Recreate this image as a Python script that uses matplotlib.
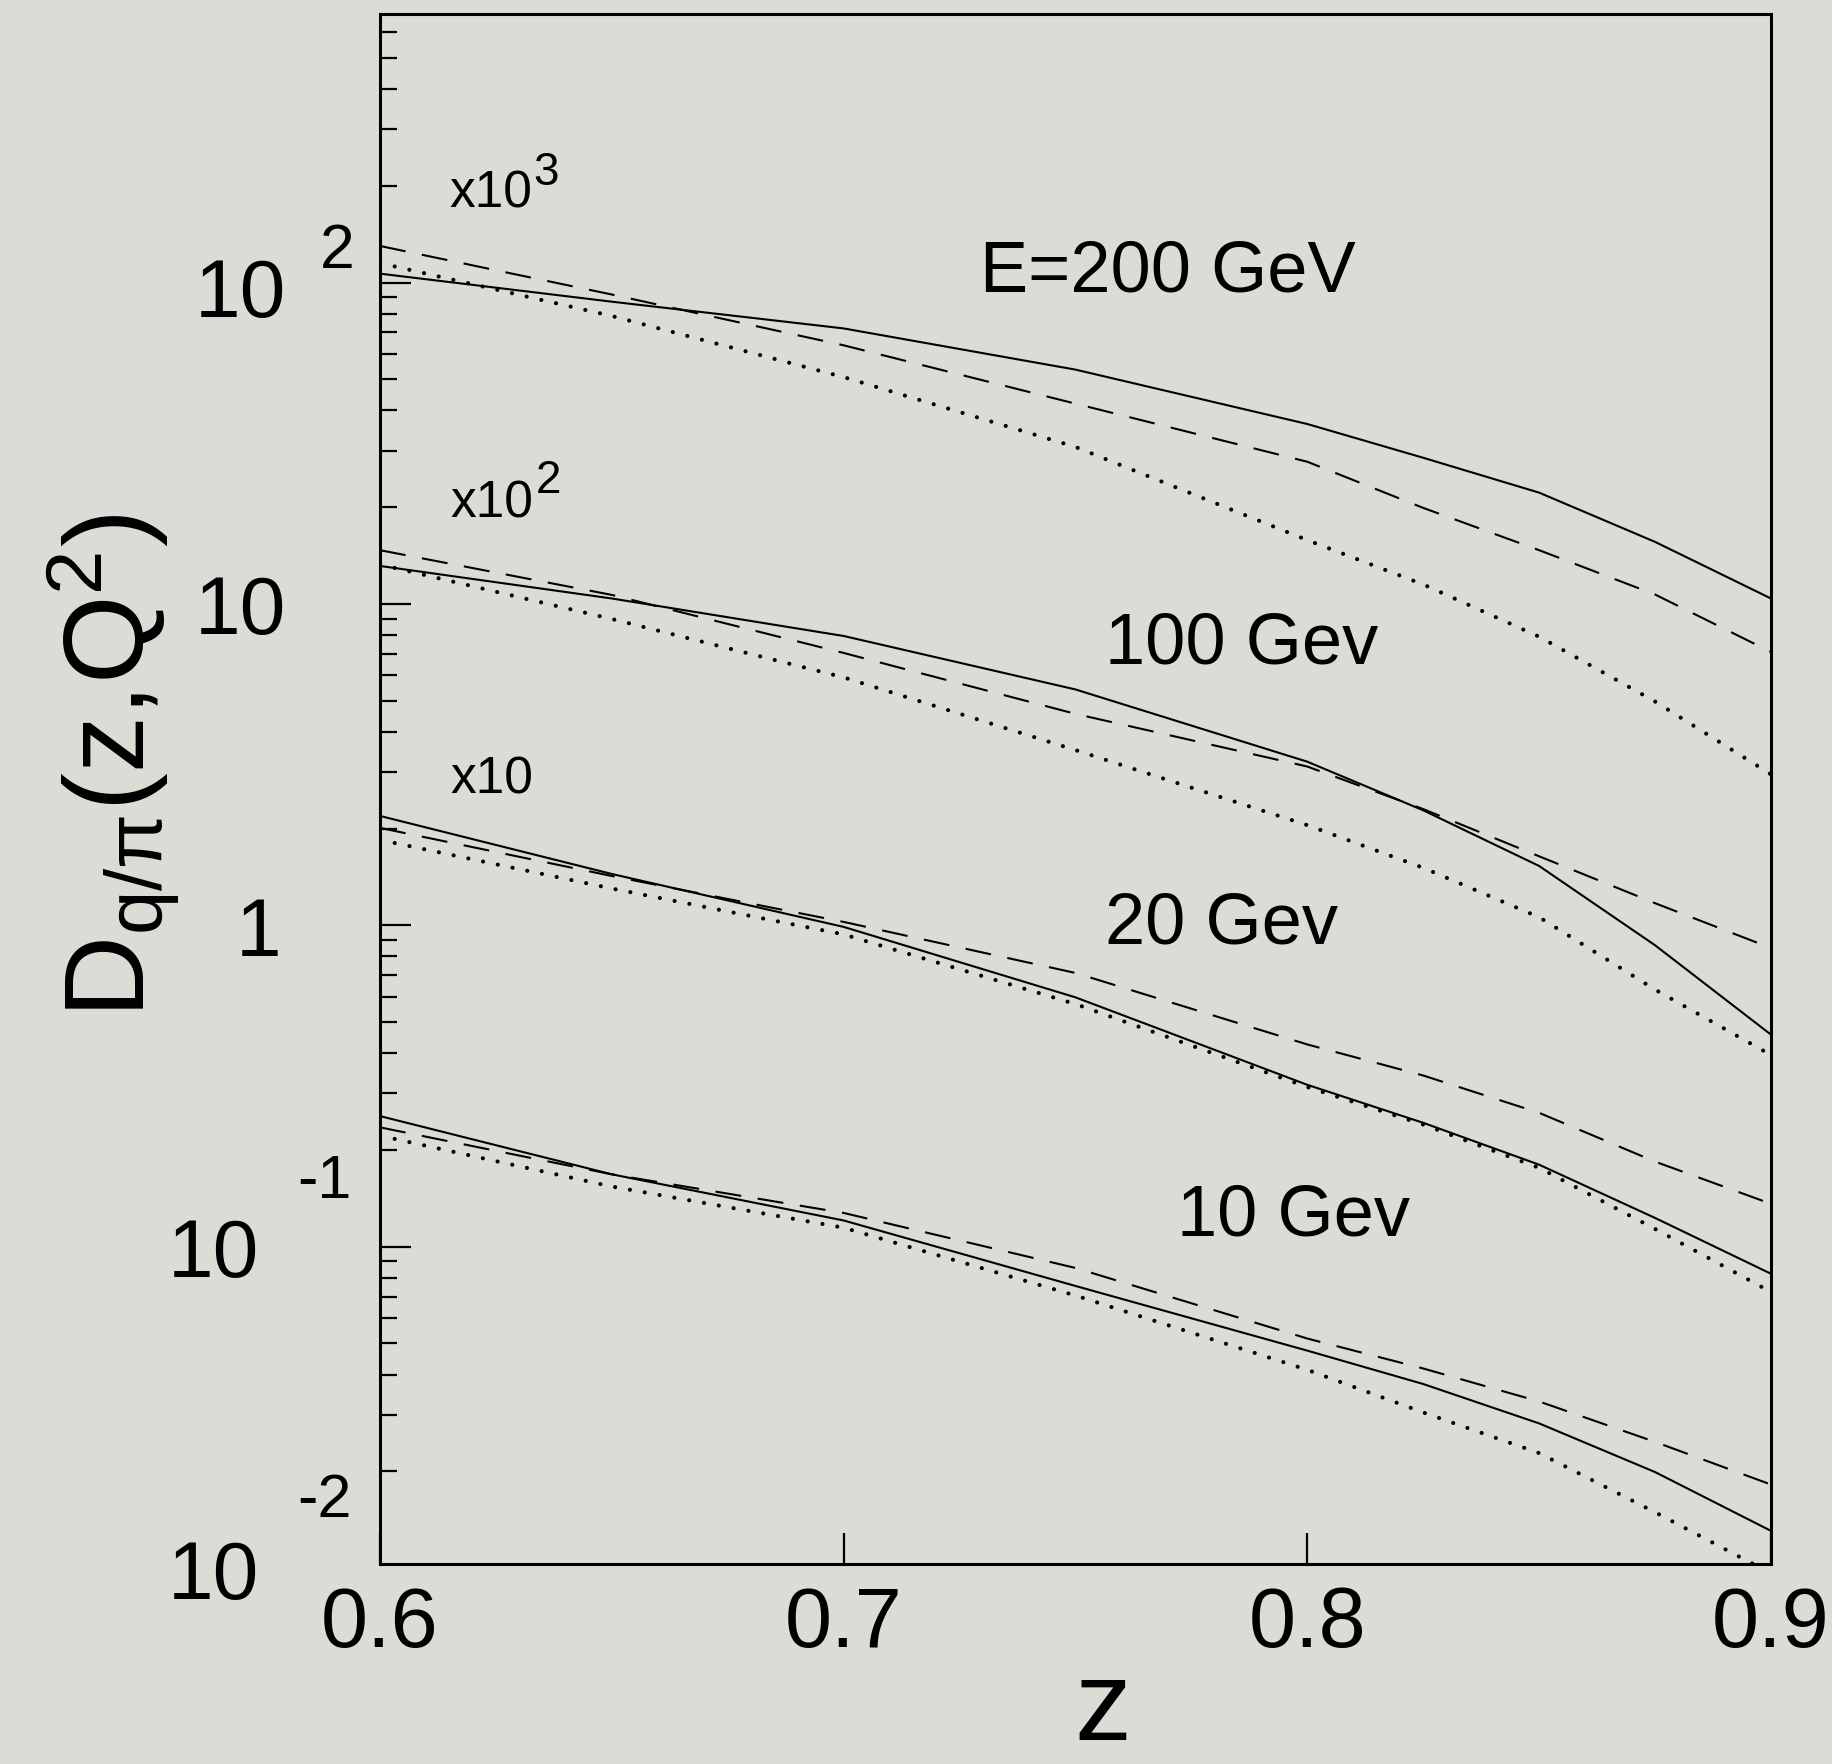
import numpy as np
import matplotlib
matplotlib.use("Agg")
import matplotlib.pyplot as plt
from matplotlib.ticker import LogLocator, NullFormatter, NullLocator

z = [0.60, 0.65, 0.70, 0.75, 0.80, 0.825, 0.85, 0.875, 0.90]

# E = 200 GeV (scaled x10^3)
e200_solid = [106.6, 87.2, 72.0, 53.6, 36.3, 28.5, 22.2, 15.6, 10.4]
e200_dashed = [130.0, 91.8, 63.8, 42.0, 27.7, 19.9, 14.7, 10.7, 7.09]
e200_dotted = [115.0, 78.7, 50.8, 30.8, 15.8, 11.5, 7.91, 4.97, 2.95]

# 100 GeV (scaled x10^2)
e100_solid = [13.13, 10.4, 7.95, 5.42, 3.23, 2.28, 1.53, 0.867, 0.457]
e100_dashed = [14.7, 10.67, 7.04, 4.55, 3.12, 2.30, 1.64, 1.172, 0.85]
e100_dotted = [13.27, 8.98, 5.91, 3.51, 2.05, 1.51, 1.06, 0.631, 0.395]

# 20 GeV (scaled x10)
e20_solid = [2.19, 1.445, 0.989, 0.597, 0.319, 0.243, 0.180, 0.1229, 0.0824]
e20_dashed = [2.01, 1.424, 1.025, 0.711, 0.426, 0.341, 0.261, 0.184, 0.136]
e20_dotted = [1.844, 1.302, 0.937, 0.569, 0.314, 0.240, 0.176, 0.1136, 0.0723]

# 10 GeV
e10_solid = [0.255, 0.168, 0.1207, 0.0755, 0.0475, 0.0374, 0.0282, 0.0199, 0.01306]
e10_dashed = [0.2352, 0.168, 0.1274, 0.0859, 0.0518, 0.0418, 0.0330, 0.0247, 0.0182]
e10_dotted = [0.2216, 0.1539, 0.1146, 0.0705, 0.0414, 0.0305, 0.0228, 0.01492, 0.00963]

xticks = [0.6, 0.7, 0.8, 0.9]
xtick_labels = ["0.6", "0.7", "0.8", "0.9"]

BG = "#dcdbd6"
W, H = 1833, 1764

plt.rcParams["font.family"] = ["Liberation Sans", "DejaVu Sans"]
plt.rcParams["mathtext.fontset"] = "custom"
plt.rcParams["mathtext.rm"] = "Liberation Sans"
plt.rcParams["mathtext.it"] = "Liberation Sans:italic"


def main():
    fig = plt.figure(figsize=(W / 100, H / 100), dpi=100, facecolor=BG)
    ax = fig.add_axes([380 / W, 1 - 1564 / H, 1391 / W, 1550 / H])
    ax.set_facecolor(BG)
    ax.set_yscale("log")
    ax.set_xlim(0.6, 0.9)
    ax.set_ylim(0.0103, 685)

    solid = dict(color="black", lw=1.5, linestyle="-")
    dashed = dict(color="black", lw=1.5, linestyle=(0, (12.5, 8)))
    dotted = dict(color="black", lw=3.0, linestyle=(0, (0.01, 3.6)),
                  dash_capstyle="round")

    for s, d, o in [(e200_solid, e200_dashed, e200_dotted),
                    (e100_solid, e100_dashed, e100_dotted),
                    (e20_solid, e20_dashed, e20_dotted),
                    (e10_solid, e10_dashed, e10_dotted)]:
        ax.plot(z, s, **solid)
        ax.plot(z, d, **dashed)
        ax.plot(z, o, **dotted)

    for sp in ax.spines.values():
        sp.set_linewidth(2.2)

    ax.yaxis.set_major_locator(LogLocator(base=10, numticks=20))
    ax.yaxis.set_minor_locator(LogLocator(base=10, subs=np.arange(2, 10), numticks=20))
    ax.yaxis.set_minor_formatter(NullFormatter())
    ax.tick_params(axis="y", which="major", direction="in", length=22, width=1.6,
                   left=True, right=False, labelleft=False)
    ax.tick_params(axis="y", which="minor", direction="in", length=12, width=1.6,
                   left=True, right=False)

    ax.set_xticks(xticks)
    ax.set_xticklabels(xtick_labels)
    ax.xaxis.set_minor_locator(NullLocator())
    ax.tick_params(axis="x", direction="in", length=22, width=1.6, top=False,
                   labelsize=61, pad=15)

    # y tick labels in the old PAW style (exponent floated up-right)
    def ftext(x, y, s, size, ha="left"):
        fig.text(x / W, 1 - y / H, s, fontsize=size, ha=ha, va="baseline")

    ftext(286, 317, "10", 59, ha="right")
    ftext(320, 268, "2", 45)
    ftext(286, 634, "10", 59, ha="right")
    ftext(281, 956, "1", 59, ha="right")
    ftext(297, 1198, "-1", 44)
    ftext(259, 1277, "10", 59, ha="right")
    ftext(297, 1517, "-2", 44)
    ftext(259, 1599, "10", 59, ha="right")

    # scale factors and energies
    def atext(x, y, s, size):
        ax.text((x - 380) / 1391, (1564 - y) / 1550, s, fontsize=size,
                transform=ax.transAxes, ha="left", va="baseline")

    atext(449, 208, "x10", 37)
    atext(533, 185, "3", 33)
    atext(450, 517, "x10", 37)
    atext(536, 493, "2", 33)
    atext(450, 794, "x10", 37)
    atext(980, 292, "E=200 GeV", 52)
    atext(1105, 663, "100 Gev", 52)
    atext(1105, 944, "20 Gev", 52)
    atext(1177, 1235, "10 Gev", 52)

    fig.text(114 / W, 1 - 766 / H, r"$\mathregular{D_{q/\pi}(z{,}Q^2)}$",
             fontsize=82, rotation=90, ha="center", va="center")
    fig.text(1103 / W, 1 - 1740 / H, "z", fontsize=82, ha="center", va="baseline")

    fig.savefig("out.png", dpi=100, facecolor=BG)


if __name__ == "__main__":
    main()
